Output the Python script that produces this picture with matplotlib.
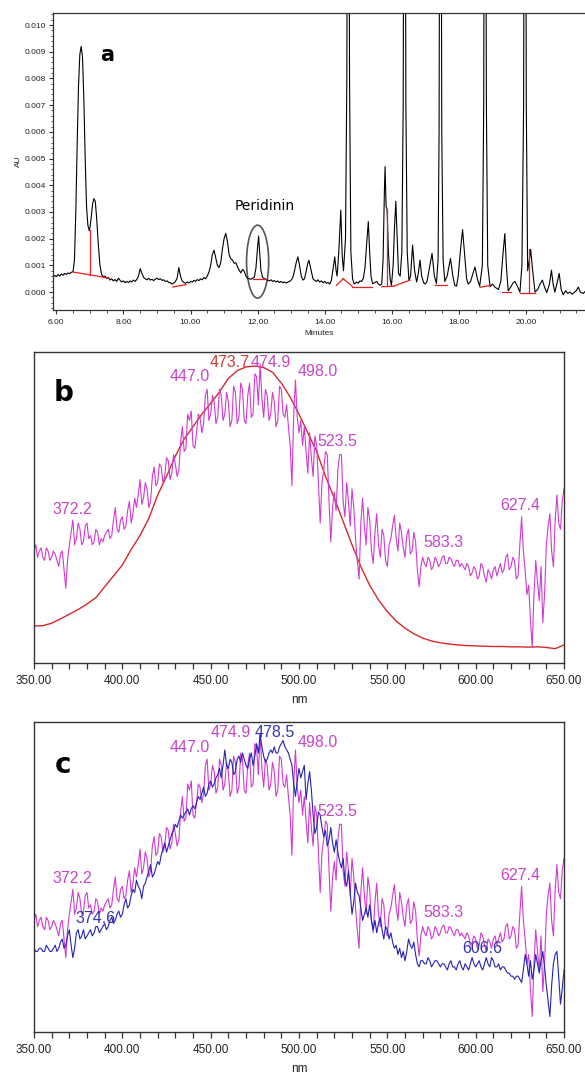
import numpy as np
import matplotlib
matplotlib.use("Agg")
import matplotlib.pyplot as plt
from matplotlib.patches import Ellipse
from matplotlib.ticker import MultipleLocator, FormatStrFormatter

# ---- panel a: chromatogram (minutes, AU) ----
CHROM_T = [
    5.90, 5.95, 6.00, 6.05, 6.10, 6.15, 6.20, 6.25, 6.30, 6.35, 6.40, 6.45, 6.50, 6.54, 6.58,
    6.62, 6.66, 6.70, 6.74, 6.78, 6.82, 6.86, 6.90, 6.94, 6.98, 7.00, 7.04, 7.08, 7.12, 7.16,
    7.20, 7.25, 7.30, 7.35, 7.40, 7.45, 7.50, 7.55, 7.60, 7.65, 7.70, 7.75, 7.80, 7.85, 7.90,
    7.95, 8.00, 8.05, 8.10, 8.15, 8.20, 8.25, 8.30, 8.35, 8.40, 8.45, 8.50, 8.55, 8.60, 8.65,
    8.70, 8.75, 8.80, 8.85, 8.90, 8.95, 9.00, 9.05, 9.10, 9.15, 9.20, 9.25, 9.30, 9.35, 9.40,
    9.45, 9.50, 9.55, 9.60, 9.65, 9.70, 9.75, 9.80, 9.85, 9.90, 9.95, 10.00, 10.05, 10.10, 10.15,
    10.20, 10.25, 10.30, 10.35, 10.40, 10.45, 10.50, 10.55, 10.60, 10.65, 10.70, 10.75, 10.80,
    10.85, 10.90, 10.95, 11.00, 11.05, 11.10, 11.15, 11.20, 11.25, 11.30, 11.35, 11.40, 11.45,
    11.50, 11.55, 11.60, 11.65, 11.70, 11.75, 11.80, 11.85, 11.90, 11.95, 12.00, 12.03, 12.06,
    12.10, 12.15, 12.20, 12.25, 12.30, 12.35, 12.40, 12.45, 12.50, 12.55, 12.60, 12.65, 12.70,
    12.75, 12.80, 12.85, 12.90, 12.95, 13.00, 13.05, 13.10, 13.15, 13.20, 13.25, 13.30, 13.35,
    13.40, 13.45, 13.50, 13.53, 13.58, 13.65, 13.70, 13.75, 13.80, 13.85, 13.90, 13.95, 14.00,
    14.05, 14.10, 14.15, 14.20, 14.25, 14.30, 14.34, 14.37, 14.42, 14.48, 14.52, 14.56, 14.62,
    14.66, 14.70, 14.74, 14.78, 14.83, 14.88, 14.95, 15.00, 15.05, 15.10, 15.15, 15.20, 15.25,
    15.30, 15.34, 15.38, 15.43, 15.50, 15.55, 15.60, 15.65, 15.70, 15.74, 15.78, 15.80, 15.83,
    15.86, 15.90, 15.95, 15.99, 16.04, 16.08, 16.12, 16.16, 16.20, 16.25, 16.30, 16.34, 16.38,
    16.42, 16.46, 16.51, 16.56, 16.62, 16.68, 16.74, 16.79, 16.84, 16.89, 16.95, 17.00, 17.05,
    17.12, 17.20, 17.27, 17.33, 17.38, 17.41, 17.45, 17.49, 17.53, 17.58, 17.65, 17.75, 17.82,
    17.88, 17.93, 17.98, 18.05, 18.11, 18.17, 18.23, 18.28, 18.35, 18.42, 18.48, 18.55, 18.62,
    18.70, 18.74, 18.78, 18.82, 18.86, 18.93, 19.00, 19.08, 19.18, 19.25, 19.32, 19.37, 19.42,
    19.47, 19.55, 19.62, 19.67, 19.75, 19.82, 19.88, 19.93, 19.97, 20.01, 20.05, 20.10, 20.14,
    20.20, 20.27, 20.35, 20.42, 20.49, 20.55, 20.62, 20.70, 20.76, 20.81, 20.86, 20.92, 20.99,
    21.05, 21.11, 21.18, 21.25, 21.31, 21.38, 21.45, 21.50, 21.56, 21.62, 21.71, 21.76,
]
CHROM_AU = [
    0.00055, 0.00062, 0.00058, 0.00066, 0.00060, 0.00068, 0.00063, 0.00070, 0.00066, 0.00072,
    0.00069, 0.00074, 0.00078, 0.0012, 0.0030, 0.0055, 0.0077, 0.0089, 0.0092, 0.0088, 0.0072,
    0.0050, 0.0032, 0.0025, 0.0023, 0.0024, 0.0028, 0.0033, 0.0035, 0.0034, 0.0028, 0.0018,
    0.0010, 0.00065, 0.00058, 0.00060, 0.00052, 0.00055, 0.00045, 0.00050, 0.00042, 0.00047,
    0.00040, 0.00052, 0.00044, 0.00038, 0.00042, 0.00035, 0.00040, 0.00036, 0.00042, 0.00038,
    0.00045, 0.00040, 0.00048, 0.00060, 0.00088, 0.00070, 0.00055, 0.00050, 0.00046, 0.00052,
    0.00045, 0.00048, 0.00043, 0.00049, 0.00052, 0.00047, 0.00050, 0.00044, 0.00046, 0.00040,
    0.00042, 0.00036, 0.00035, 0.00030, 0.00034, 0.00040, 0.00052, 0.00092, 0.00060, 0.00042,
    0.00036, 0.00033, 0.00038, 0.00034, 0.00040, 0.00037, 0.00044, 0.00040, 0.00047, 0.00043,
    0.00050, 0.00046, 0.00055, 0.00050, 0.00060, 0.00075, 0.0010, 0.0014, 0.00157, 0.0013,
    0.0010, 0.00092, 0.0011, 0.0016, 0.0020, 0.0022, 0.0019, 0.0014, 0.00125, 0.0012, 0.00108,
    0.0011, 0.00095, 0.00082, 0.00072, 0.00085, 0.00078, 0.00060, 0.00052, 0.00050, 0.00048,
    0.00052, 0.00055, 0.0009, 0.0017, 0.0021, 0.0015, 0.0008, 0.00055, 0.00050, 0.00048,
    0.00045, 0.00042, 0.00046, 0.00040, 0.00043, 0.00038, 0.00042, 0.00036, 0.00040, 0.00035,
    0.00038, 0.00034, 0.00037, 0.00040, 0.00045, 0.00055, 0.0008, 0.0011, 0.00132, 0.0010,
    0.0006, 0.00045, 0.0005, 0.0008, 0.0011, 0.00119, 0.0009, 0.0005, 0.00044, 0.00040,
    0.00046, 0.00038, 0.00042, 0.00035, 0.00040, 0.00033, 0.00036, 0.00030, 0.00045, 0.0009,
    0.00132, 0.0008, 0.0006, 0.0015, 0.00307, 0.0014, 0.0008, 0.0020, 0.0080, 0.0300, 0.0080,
    0.0015, 0.0005, 0.00030, 0.00038, 0.00033, 0.00042, 0.00040, 0.00051, 0.0009, 0.0018,
    0.00264, 0.0015, 0.0006, 0.00031, 0.00036, 0.00040, 0.00030, 0.00026, 0.00030, 0.0012,
    0.0038, 0.0047, 0.0032, 0.0031, 0.0015, 0.0005, 0.00025, 0.0010, 0.0024, 0.0034, 0.0020,
    0.0007, 0.0006, 0.0015, 0.0070, 0.0300, 0.0070, 0.0015, 0.00045, 0.0006, 0.00176, 0.0008,
    0.00038, 0.0007, 0.0012, 0.0006, 0.00035, 0.00030, 0.0004, 0.0009, 0.00145, 0.0006,
    0.00032, 0.0012, 0.0060, 0.0300, 0.0060, 0.0012, 0.0004, 0.0006, 0.00126, 0.0006, 0.00025,
    0.00022, 0.0006, 0.0016, 0.00234, 0.0014, 0.0005, 0.00030, 0.0004, 0.0007, 0.00094, 0.0005,
    0.00022, 0.0010, 0.0070, 0.0300, 0.0070, 0.0010, 0.00020, 0.00030, 0.00018, 0.00010,
    0.0004, 0.0015, 0.00219, 0.0009, 0.00005, 0.00020, 0.00035, 0.00040, 0.0002, 0.00000,
    0.0010, 0.0070, 0.0300, 0.0070, 0.0008, 0.0012, 0.0016, 0.0008, 0.00000, 0.0001, 0.0003,
    0.00045, 0.0002, -0.00002, 0.0003, 0.00082, 0.0003, 0.00000, 0.0003, 0.0007, 0.0001,
    -0.0001, 0.00005, -0.00005, 0.0000, -0.00008, 0.0000, 0.00005, 0.00019, 0.0000, -0.00005,
    0.00002,
]

# integration baselines (red) and drop lines
BASE_T0 = [6.50, 7.00, 9.47, 11.86, 14.35, 14.55, 14.82, 15.70, 16.05, 17.30, 18.63, 19.30, 19.82]
BASE_V0 = [0.00075, 0.00065, 0.00019, 0.00048, 0.00025, 0.00050, 0.00020, 0.00020, 0.00022,
           0.00028, 0.00018, 0.00002, -0.00003]
BASE_T1 = [7.00, 7.55, 9.87, 12.26, 14.55, 14.82, 15.40, 16.05, 16.55, 17.65, 18.93, 19.55, 20.27]
BASE_V1 = [0.00065, 0.00052, 0.00028, 0.00048, 0.00050, 0.00022, 0.00020, 0.00022, 0.00045,
           0.00028, 0.00025, 0.00002, -0.00003]
DROP_T = [7.00, 15.85, 20.10]
DROP_LO = [0.00065, 0.00021, -0.00003]
DROP_HI = [0.00232, 0.0031, 0.0016]

# ---- panels b and c: absorption spectra, 1 nm steps from 350 to 650 ----
WL = np.arange(350, 651)
SPEC_MAGENTA = [
    0.36, 0.38, 0.34, 0.36, 0.37, 0.34, 0.33, 0.37, 0.36, 0.33,
    0.34, 0.36, 0.35, 0.33, 0.31, 0.35, 0.36, 0.30, 0.24, 0.33,
    0.38, 0.42, 0.46, 0.38, 0.40, 0.45, 0.43, 0.38, 0.39, 0.44,
    0.45, 0.40, 0.41, 0.38, 0.39, 0.43, 0.42, 0.38, 0.40, 0.39,
    0.41, 0.42, 0.43, 0.40, 0.41, 0.46, 0.50, 0.43, 0.42, 0.46,
    0.47, 0.43, 0.44, 0.49, 0.52, 0.45, 0.48, 0.53, 0.50, 0.54,
    0.59, 0.51, 0.53, 0.58, 0.56, 0.50, 0.52, 0.60, 0.63, 0.57,
    0.58, 0.64, 0.63, 0.58, 0.60, 0.66, 0.65, 0.59, 0.61, 0.67,
    0.64, 0.60, 0.62, 0.71, 0.76, 0.68, 0.69, 0.80, 0.78, 0.81,
    0.70, 0.69, 0.74, 0.80, 0.79, 0.74, 0.77, 0.86, 0.88, 0.78,
    0.80, 0.86, 0.84, 0.77, 0.79, 0.88, 0.86, 0.78, 0.80, 0.87,
    0.84, 0.76, 0.78, 0.89, 0.87, 0.77, 0.79, 0.90, 0.88, 0.78,
    0.77, 0.86, 0.90, 0.79, 0.80, 0.93, 0.92, 0.83, 0.96, 0.85,
    0.79, 0.88, 0.86, 0.78, 0.80, 0.87, 0.84, 0.76, 0.78, 0.89,
    0.88, 0.80, 0.79, 0.83, 0.76, 0.70, 0.57, 0.80, 0.91, 0.79,
    0.74, 0.78, 0.70, 0.76, 0.68, 0.61, 0.74, 0.66, 0.60, 0.73,
    0.70, 0.58, 0.45, 0.58, 0.62, 0.68, 0.67, 0.52, 0.39, 0.50,
    0.55, 0.49, 0.62, 0.67, 0.67, 0.52, 0.47, 0.58, 0.52, 0.44,
    0.56, 0.50, 0.40, 0.33, 0.27, 0.45, 0.53, 0.44, 0.38, 0.50,
    0.46, 0.36, 0.32, 0.42, 0.48, 0.38, 0.34, 0.43, 0.41, 0.33,
    0.31, 0.38, 0.40, 0.44, 0.475, 0.40, 0.36, 0.45, 0.42, 0.37,
    0.34, 0.41, 0.43, 0.35, 0.36, 0.42, 0.39, 0.30, 0.245, 0.31,
    0.34, 0.32, 0.31, 0.34, 0.33, 0.30, 0.31, 0.34, 0.33, 0.31,
    0.32, 0.34, 0.345, 0.32, 0.32, 0.34, 0.335, 0.32, 0.31, 0.33,
    0.33, 0.31, 0.32, 0.31, 0.30, 0.32, 0.31, 0.28, 0.29, 0.31,
    0.30, 0.27, 0.28, 0.32, 0.31, 0.28, 0.26, 0.30, 0.29, 0.27,
    0.30, 0.31, 0.28, 0.30, 0.32, 0.29, 0.30, 0.34, 0.35, 0.30,
    0.31, 0.34, 0.33, 0.27, 0.28, 0.38, 0.47, 0.36, 0.30, 0.22,
    0.25, 0.14, 0.05, 0.22, 0.33, 0.26, 0.20, 0.31, 0.13, 0.22,
    0.38, 0.44, 0.48, 0.36, 0.31, 0.46, 0.54, 0.45, 0.43, 0.52,
    0.56,
]
SPEC_BLUE = [
    0.27, 0.26, 0.26, 0.27, 0.27, 0.26, 0.26, 0.28, 0.27, 0.26,
    0.26, 0.27, 0.28, 0.26, 0.27, 0.29, 0.30, 0.27, 0.28, 0.31,
    0.33, 0.28, 0.24, 0.27, 0.32, 0.33, 0.30, 0.31, 0.33, 0.30,
    0.31, 0.32, 0.33, 0.31, 0.32, 0.34, 0.34, 0.32, 0.33, 0.34,
    0.35, 0.33, 0.34, 0.36, 0.37, 0.35, 0.36, 0.38, 0.39, 0.37,
    0.38, 0.41, 0.43, 0.40, 0.41, 0.44, 0.46, 0.45, 0.49, 0.47,
    0.46, 0.43, 0.47, 0.48, 0.50, 0.52, 0.54, 0.50, 0.51, 0.53,
    0.55, 0.54, 0.57, 0.59, 0.61, 0.58, 0.60, 0.62, 0.64, 0.65,
    0.67, 0.66, 0.68, 0.70, 0.69, 0.70, 0.71, 0.72, 0.70, 0.72,
    0.73, 0.72, 0.74, 0.76, 0.75, 0.77, 0.79, 0.76, 0.77, 0.80,
    0.81, 0.79, 0.80, 0.82, 0.83, 0.85, 0.82, 0.86, 0.91, 0.86,
    0.85, 0.88, 0.87, 0.83, 0.84, 0.88, 0.89, 0.87, 0.90, 0.88,
    0.86, 0.85, 0.88, 0.90, 0.86, 0.89, 0.93, 0.90, 0.96, 0.92,
    0.89, 0.87, 0.88, 0.90, 0.91, 0.90, 0.92, 0.90, 0.90, 0.92,
    0.93, 0.94, 0.92, 0.91, 0.90, 0.88, 0.86, 0.80, 0.76, 0.81,
    0.85, 0.82, 0.84, 0.86, 0.75, 0.80, 0.84, 0.78, 0.70, 0.64,
    0.66, 0.71, 0.70, 0.66, 0.63, 0.65, 0.60, 0.62, 0.66, 0.61,
    0.58, 0.62, 0.58, 0.55, 0.53, 0.56, 0.49, 0.47, 0.52, 0.45,
    0.38, 0.42, 0.48, 0.45, 0.44, 0.40, 0.36, 0.38, 0.40, 0.37,
    0.41, 0.36, 0.33, 0.36, 0.32, 0.35, 0.37, 0.33, 0.30, 0.34,
    0.33, 0.30, 0.32, 0.29, 0.27, 0.28, 0.25, 0.27, 0.24, 0.26,
    0.23, 0.26, 0.30, 0.28, 0.27, 0.29, 0.25, 0.22, 0.21, 0.23,
    0.23, 0.22, 0.22, 0.24, 0.23, 0.21, 0.22, 0.23, 0.23, 0.22,
    0.21, 0.22, 0.22, 0.21, 0.20, 0.22, 0.23, 0.21, 0.21, 0.20,
    0.22, 0.23, 0.21, 0.20, 0.22, 0.21, 0.20, 0.22, 0.24, 0.22,
    0.21, 0.22, 0.23, 0.21, 0.20, 0.22, 0.24, 0.22, 0.21, 0.24,
    0.23, 0.21, 0.21, 0.22, 0.20, 0.21, 0.21, 0.20, 0.19, 0.19,
    0.18, 0.18, 0.17, 0.18, 0.18, 0.17, 0.16, 0.20, 0.25, 0.22,
    0.18, 0.23, 0.17, 0.20, 0.25, 0.22, 0.19, 0.23, 0.26, 0.21,
    0.15, 0.10, 0.05, 0.15, 0.22, 0.25, 0.26, 0.18, 0.09, 0.14,
    0.20,
]
WL_REF = np.arange(350, 651, 5)
SPEC_RED = [
    0.119, 0.120, 0.128, 0.142, 0.157, 0.172, 0.190, 0.210, 0.245, 0.280, 0.315, 0.365, 0.410,
    0.465, 0.540, 0.600, 0.665, 0.720, 0.760, 0.800, 0.835, 0.872, 0.915, 0.940, 0.952, 0.955,
    0.950, 0.935, 0.900, 0.855, 0.800, 0.740, 0.680, 0.600, 0.530, 0.455, 0.380, 0.310, 0.250,
    0.203, 0.165, 0.135, 0.112, 0.094, 0.080, 0.071, 0.065, 0.061, 0.058, 0.056, 0.055, 0.054,
    0.053, 0.053, 0.052, 0.052, 0.051, 0.052, 0.050, 0.046, 0.058,
]

# peak labels: text, x (nm), y, colour key
LABELS_B = [
    ("372.2", 371.5, 0.495, "m"), ("447.0", 438.3, 0.920, "m"), ("473.7", 460.9, 0.965, "r"),
    ("474.9", 484.0, 0.965, "m"), ("498.0", 510.8, 0.936, "m"), ("523.5", 521.5, 0.711, "m"),
    ("583.3", 581.5, 0.386, "m"), ("627.4", 625.0, 0.508, "m"),
]
LABELS_C = [
    ("372.2", 371.5, 0.494, "m"), ("374.6", 385.0, 0.365, "b"), ("447.0", 438.3, 0.919, "m"),
    ("474.9", 461.5, 0.965, "m"), ("478.5", 486.0, 0.965, "b"), ("498.0", 510.8, 0.935, "m"),
    ("523.5", 521.5, 0.710, "m"), ("583.3", 581.5, 0.384, "m"), ("606.6", 604.0, 0.268, "b"),
    ("627.4", 625.0, 0.506, "m"),
]

MAGENTA = "#d23ad2"
BLUE = "#2424b4"
RED = "#d42a2a"
TEXT_COLORS = {"m": "#c845c8", "b": "#3434b0", "r": "#cc3a3a"}
SPINE = "#333333"
FONT = ["Liberation Sans", "DejaVu Sans"]


def style_spectrum_axes(ax):
    ax.set_xlim(350, 650)
    ax.set_ylim(0, 1)
    ax.set_yticks([])
    ax.xaxis.set_major_locator(MultipleLocator(50))
    ax.xaxis.set_minor_locator(MultipleLocator(10))
    ax.xaxis.set_major_formatter(FormatStrFormatter("%.2f"))
    ax.tick_params(axis="x", which="both", direction="out", length=4, width=0.9,
                   color=SPINE, labelsize=8.5, pad=4.5, labelcolor="#222222")
    for lab in ax.get_xticklabels():
        lab.set_family(FONT)
    for sp in ax.spines.values():
        sp.set_color(SPINE)
        sp.set_linewidth(1.0)
    ax.set_xlabel("nm", fontsize=8.5, family=FONT, labelpad=5, color="#222222")


def draw_labels(ax, labels):
    for text, x, y, key in labels:
        ax.text(x, y, text, ha="center", va="center", fontsize=11.5, family=FONT,
                color=TEXT_COLORS[key])


fig = plt.figure(figsize=(5.85, 10.74), dpi=100)

# panel a
ax_a = fig.add_axes([53 / 585, 1 - 310 / 1074, (585 - 53) / 585, (310 - 13) / 1074])
ax_a.plot(CHROM_T, CHROM_AU, color="black", lw=0.8)
for t0, v0, t1, v1 in zip(BASE_T0, BASE_V0, BASE_T1, BASE_V1):
    ax_a.plot([t0, t1], [v0, v1], color="#e02020", lw=0.9)
for t, lo, hi in zip(DROP_T, DROP_LO, DROP_HI):
    ax_a.plot([t, t], [lo, hi], color="#e02020", lw=0.9)
ax_a.add_patch(Ellipse((12.0, 0.00114), 0.66, 0.00273, fill=False, ec="#555555", lw=1.2))
ax_a.set_xlim(5.9, 21.76)
ax_a.set_ylim(-0.00067, 0.01045)
ax_a.xaxis.set_major_locator(MultipleLocator(2))
ax_a.xaxis.set_minor_locator(MultipleLocator(0.5))
ax_a.xaxis.set_major_formatter(FormatStrFormatter("%.2f"))
ax_a.yaxis.set_major_locator(MultipleLocator(0.001))
ax_a.yaxis.set_minor_locator(MultipleLocator(0.0002))
ax_a.yaxis.set_major_formatter(FormatStrFormatter("%.3f"))
ax_a.tick_params(which="both", direction="out", color=SPINE, labelsize=6, pad=2,
                 labelcolor="#222222")
ax_a.tick_params(axis="x", which="both", pad=3.5)
ax_a.tick_params(which="major", length=3, width=0.8)
ax_a.tick_params(which="minor", length=1.8, width=0.6)
for lab in ax_a.get_xticklabels() + ax_a.get_yticklabels():
    lab.set_family(FONT)
ax_a.spines["right"].set_visible(False)
for name in ["left", "bottom", "top"]:
    ax_a.spines[name].set_color(SPINE)
    ax_a.spines[name].set_linewidth(0.9)
ax_a.set_xlabel("Minutes", fontsize=6, family=FONT, labelpad=3, color="#222222")
ax_a.set_ylabel("AU", fontsize=6, family=FONT, labelpad=2, color="#222222")
ax_a.text(7.52, 0.00888, "a", fontsize=15, fontweight="bold", ha="center", va="center")
ax_a.text(12.2, 0.00322, "Peridinin", fontsize=10, ha="center", va="center")

# panel b
ax_b = fig.add_axes([34 / 585, 1 - 663 / 1074, 530 / 585, 311 / 1074])
ax_b.plot(WL_REF, SPEC_RED, color=RED, lw=1.0)
ax_b.plot(WL, SPEC_MAGENTA, color=MAGENTA, lw=0.8)
style_spectrum_axes(ax_b)
draw_labels(ax_b, LABELS_B)
ax_b.text(367, 0.868, "b", fontsize=20, fontweight="bold", ha="center", va="center")

# panel c
ax_c = fig.add_axes([34 / 585, 1 - 1032 / 1074, 530 / 585, 310 / 1074])
ax_c.plot(WL, SPEC_MAGENTA, color=MAGENTA, lw=0.8)
ax_c.plot(WL, SPEC_BLUE, color=BLUE, lw=0.8)
style_spectrum_axes(ax_c)
draw_labels(ax_c, LABELS_C)
ax_c.text(366.4, 0.861, "c", fontsize=20, fontweight="bold", ha="center", va="center")

fig.savefig("out.png", dpi=100)
plt.close(fig)
print("[OK] Chart generated: out.png")
